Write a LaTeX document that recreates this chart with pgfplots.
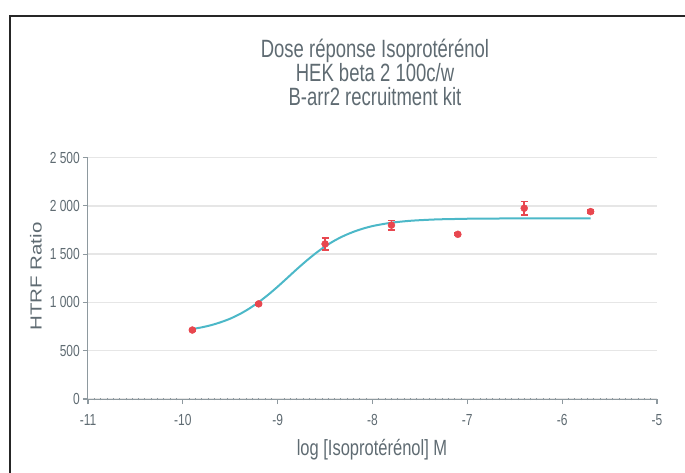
\documentclass[border=0pt]{standalone}
\usepackage{fontspec}
\setmainfont{Liberation Sans}
\usepackage{pgfplots}
\pgfplotsset{compat=1.18}
\definecolor{txt}{HTML}{5F6B72}
\definecolor{axg}{HTML}{8E999F}
\definecolor{grd}{HTML}{E6E6E6}
\definecolor{fitc}{HTML}{4CB8C8}
\definecolor{ptr}{HTML}{E8474F}
\newcommand{\sq}[1]{\scalebox{0.75}[1]{#1}}
\begin{document}
\begin{tikzpicture}
\path[use as bounding box] (-88pt,-73pt) rectangle (597pt,399pt);
\begin{axis}[
  at={(0pt,0pt)}, anchor=south west,
  scale only axis, width=569pt, height=241.5pt,
  xmin=-11, xmax=-5, ymin=0, ymax=2500,
  axis x line*=bottom, axis y line*=left,
  axis line style={-, draw=axg, line width=1pt},
  xtick={-11,-10,-9,-8,-7,-6,-5},
  xticklabels={\sq{-11},\sq{-10},\sq{-9},\sq{-8},\sq{-7},\sq{-6},\sq{-5}},
  ytick={0,500,1000,1500,2000,2500},
  yticklabels={\sq{0},\sq{500},\sq{1 000},\sq{1 500},\sq{2 000},\sq{2 500}},
  ymajorgrids, grid style={grd, line width=1.5pt},
  major tick length=5pt, tick align=outside,
  minor x tick num=14, minor tick length=2.6pt,
  major tick style={axg, line width=1.2pt},
  minor tick style={axg, line width=0.8pt, yshift=1.3pt},
  ticklabel style={font=\fontsize{16}{18}\selectfont, text=txt},
  xticklabel style={anchor=north, inner sep=0pt, yshift=-10pt},
  yticklabel style={anchor=east, inner sep=0pt, xshift=-3pt},
  clip=false,
]
\addplot[fitc, line width=2pt, smooth] coordinates {
(-9.9,724) (-9.8,742) (-9.7,765) (-9.6,795) (-9.5,832) (-9.4,879) (-9.3,936)
(-9.2,1003) (-9.1,1079) (-9.0,1163) (-8.9,1252) (-8.8,1342) (-8.7,1428)
(-8.6,1508) (-8.5,1579) (-8.4,1640) (-8.3,1690) (-8.2,1731) (-8.1,1764)
(-8.0,1790) (-7.9,1809) (-7.8,1825) (-7.7,1836) (-7.6,1845) (-7.5,1851)
(-7.4,1856) (-7.3,1860) (-7.2,1862) (-7.0,1866) (-6.8,1868) (-6.5,1869)
(-6.0,1870) (-5.7,1870)
};
\addplot[ptr, only marks, mark=*, mark size=3.5pt, mark options={fill=ptr, draw=ptr},
  error bars/.cd, y dir=both, y explicit,
  error bar style={line width=1.5pt, ptr},
  error mark options={rotate=90, ptr, line width=1.5pt, mark size=3.5pt}]
coordinates {
(-9.9,714) +- (0,12)
(-9.2,985) +- (0,12)
(-8.5,1605) +- (0,60)
(-7.8,1800) +- (0,50)
(-7.1,1705) +- (0,15)
(-6.4,1975) +- (0,70)
(-5.7,1940) +- (0,15)
};
\end{axis}
\draw[line width=2pt, black!85] (-78pt,-80pt) -- (-78pt,383pt) -- (600pt,383pt);
\node[anchor=base, text=txt, font=\fontsize{25}{25}\selectfont] at (287pt,341.3pt) {\scalebox{0.74}[1]{Dose réponse Isoprotérénol}};
\node[anchor=base, text=txt, font=\fontsize{25}{25}\selectfont] at (287pt,317.3pt) {\scalebox{0.74}[1]{HEK beta 2 100c/w}};
\node[anchor=base, text=txt, font=\fontsize{25}{25}\selectfont] at (287pt,293.3pt) {\scalebox{0.74}[1]{B-arr2 recruitment kit}};
\node[anchor=base, text=txt, font=\fontsize{22}{22}\selectfont] at (284pt,-56pt) {\sq{log [Isoprotérénol] M}};
\node[rotate=90, text=txt, font=\fontsize{20.5}{20.5}\selectfont] at (-52.2pt,122.5pt) {\scalebox{1}[0.78]{HTRF Ratio}};
\end{tikzpicture}
\end{document}
